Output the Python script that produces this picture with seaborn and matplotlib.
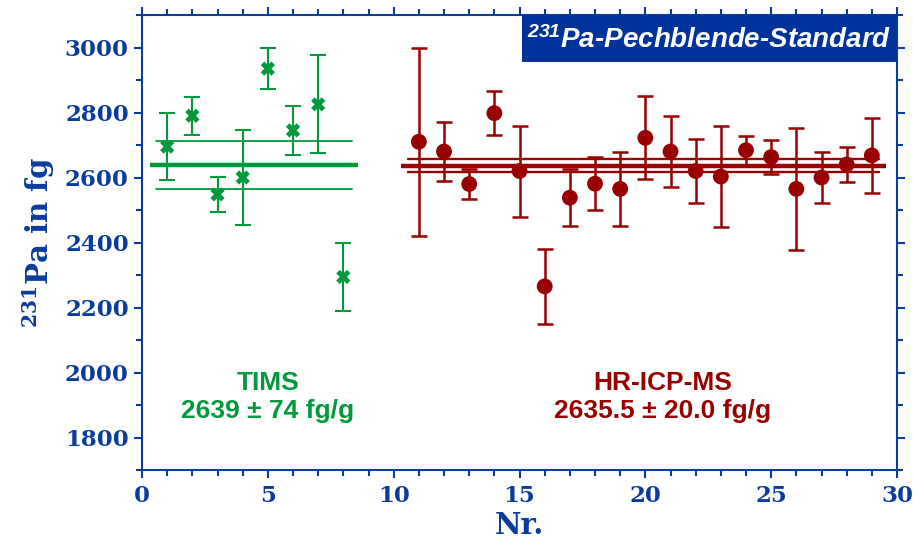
import numpy as np
import pandas as pd
import seaborn as sns
import matplotlib.pyplot as plt
from matplotlib.patches import Rectangle
from matplotlib.ticker import MultipleLocator

# TIMS measurements
tims_nr = [1, 2, 3, 4, 5, 6, 7, 8]
tims_val = [2695, 2790, 2548, 2600, 2935, 2745, 2825, 2294]
tims_err = [104, 58, 55, 145, 63, 75, 151, 106]
tims_mean, tims_sd = 2639, 74

# HR-ICP-MS measurements
icp_nr = list(range(11, 30))
icp_val = [2710, 2680, 2580, 2798, 2620, 2265, 2538, 2581, 2565, 2722,
           2680, 2620, 2603, 2684, 2663, 2565, 2600, 2640, 2668]
icp_err = [290, 90, 45, 68, 140, 116, 88, 82, 115, 128,
           110, 98, 155, 44, 52, 187, 78, 53, 115]
icp_mean, icp_sd = 2635.5, 20.0

green = "#009a3c"
red = "#990000"
blue = "#0a3c9c"
box_blue = "#003399"

sns.set_theme(style="ticks")
plt.rcParams['font.family'] = ['DejaVu Serif']
plt.rcParams['mathtext.fontset'] = 'custom'
plt.rcParams['mathtext.bf'] = 'DejaVu Serif:bold'
plt.rcParams['mathtext.sf'] = 'Liberation Sans:bold:italic'

tims_df = pd.DataFrame({"Nr": tims_nr, "Pa": tims_val, "err": tims_err})
icp_df = pd.DataFrame({"Nr": icp_nr, "Pa": icp_val, "err": icp_err})

fig = plt.figure(figsize=(9.14, 5.44), dpi=100)
ax = fig.add_axes([0.1554, 0.136, 0.826, 0.8364])

# mean lines
ax.plot([0.3, 8.6], [tims_mean] * 2, color=green, lw=3.2, solid_capstyle="butt")
ax.plot([0.55, 8.35], [tims_mean + tims_sd] * 2, color=green, lw=1.3)
ax.plot([0.55, 8.35], [tims_mean - tims_sd] * 2, color=green, lw=1.3)
ax.plot([10.3, 29.55], [icp_mean] * 2, color=red, lw=3.2, solid_capstyle="butt")
ax.plot([10.55, 29.3], [icp_mean + icp_sd] * 2, color=red, lw=1.7)
ax.plot([10.55, 29.3], [icp_mean - icp_sd] * 2, color=red, lw=1.7)

ax.errorbar(tims_df["Nr"], tims_df["Pa"], yerr=tims_df["err"], fmt="none",
            ecolor=green, elinewidth=1.5, capsize=6, capthick=1.5)
ax.errorbar(icp_df["Nr"], icp_df["Pa"], yerr=icp_df["err"], fmt="none",
            ecolor=red, elinewidth=1.8, capsize=6, capthick=1.8)

sns.scatterplot(data=tims_df, x="Nr", y="Pa", ax=ax, marker="X", s=105,
                color=green, edgecolor="none", zorder=5)
sns.scatterplot(data=icp_df, x="Nr", y="Pa", ax=ax, marker="o", s=130,
                color=red, edgecolor="none", zorder=5)

ax.set_xlim(0, 30)
ax.set_ylim(1700, 3100)
ax.xaxis.set_major_locator(MultipleLocator(5))
ax.xaxis.set_minor_locator(MultipleLocator(1))
ax.yaxis.set_major_locator(MultipleLocator(200))
ax.yaxis.set_minor_locator(MultipleLocator(100))
ax.tick_params(which="both", direction="out", color=blue, width=1.5,
               top=True, right=True, labelcolor=blue, labelsize=16.5)
ax.tick_params(which="major", length=6)
ax.tick_params(which="minor", length=4)
ax.tick_params(axis="x", pad=5)
for lab in ax.get_xticklabels() + ax.get_yticklabels():
    lab.set_fontweight("bold")
for sp in ax.spines.values():
    sp.set_visible(True)
    sp.set_color(blue)
    sp.set_linewidth(1.5)

ax.set_xlabel("Nr.", fontsize=21, fontweight="bold", color=blue, labelpad=3)
ax.set_ylabel(r"$\mathbf{^{231}}$Pa in fg", fontsize=21, fontweight="bold",
              color=blue, labelpad=6)

# title box
ax.add_patch(Rectangle((0.503, 0.897), 0.497, 0.103, transform=ax.transAxes,
                       facecolor=box_blue, edgecolor="none", zorder=6))
ax.text(0.7515, 0.945, r"$\mathsf{^{231}}$Pa-Pechblende-Standard",
        transform=ax.transAxes, ha="center", va="center", color="white",
        fontsize=20, fontweight="bold", fontstyle="italic",
        family="Liberation Sans", zorder=7)

ax.text(5, 1925, "TIMS\n2639 ± 74 fg/g", ha="center", va="center",
        color=green, fontsize=19, fontweight="bold", family="Liberation Sans",
        linespacing=1.2)
ax.text(20.7, 1925, "HR-ICP-MS\n2635.5 ± 20.0 fg/g", ha="center", va="center",
        color=red, fontsize=19, fontweight="bold", family="Liberation Sans",
        linespacing=1.2)

fig.savefig("out.png", dpi=100)
